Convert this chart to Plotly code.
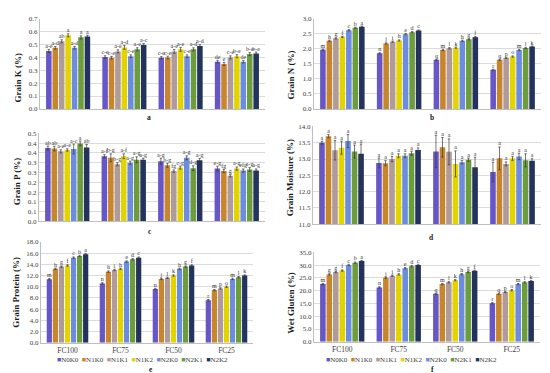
import plotly.graph_objects as go

categories = ["FC100", "FC75", "FC50", "FC25"]
series = ["N0K0", "N1K0", "N1K1", "N1K2", "N2K0", "N2K1", "N2K2"]
colors = ["#6656c6", "#c8862c", "#b09a9a", "#e2d400", "#6c8ce0", "#6c9c3c", "#23335e"]

# ---- Grain K (%) : rows = FC100, FC75, FC50, FC25
k_vals = [[0.450, 0.475, 0.525, 0.572, 0.475, 0.556, 0.562],
          [0.403, 0.398, 0.447, 0.478, 0.410, 0.463, 0.496],
          [0.398, 0.400, 0.447, 0.463, 0.410, 0.463, 0.488],
          [0.367, 0.349, 0.400, 0.410, 0.367, 0.426, 0.430]]
k_err = [[0.012, 0.010, 0.012, 0.012, 0.010, 0.012, 0.010],
         [0.010, 0.010, 0.012, 0.015, 0.010, 0.012, 0.012],
         [0.008, 0.010, 0.015, 0.015, 0.010, 0.012, 0.012],
         [0.010, 0.012, 0.012, 0.012, 0.010, 0.012, 0.012]]
k_lbl = [["a-e", "a-d", "ab", "a", "a-d", "a", "a"],
         ["c-e", "c-e", "a-e", "a-d", "c-e", "a-e", "a-c"],
         ["c-e", "c-e", "a-e", "a-e", "c-e", "a-d", "a-d"],
         ["de", "e", "c-e", "b-e", "de", "b-e", "b-e"]]

# ---- Grain N (%)
n_vals = [[1.97, 2.27, 2.35, 2.40, 2.62, 2.70, 2.74],
          [1.85, 2.18, 2.24, 2.28, 2.49, 2.555, 2.61],
          [1.64, 1.965, 2.02, 2.04, 2.27, 2.32, 2.39],
          [1.30, 1.64, 1.70, 1.745, 1.965, 2.03, 2.075]]
n_err = [[0.02] * 7, [0.02] * 7, [0.02] * 7, [0.02] * 7]
n_lbl = [["m", "h", "g", "f", "c", "b", "a"],
         ["n", "j", "i", "h", "e", "d", "c"],
         ["q", "m", "l", "k", "h", "g", "f"],
         ["r", "q", "p", "o", "m", "l", "k"]]

# ---- Grain P (%)
p_vals = [[0.375, 0.372, 0.358, 0.365, 0.370, 0.398, 0.378],
          [0.333, 0.325, 0.292, 0.333, 0.300, 0.315, 0.315],
          [0.308, 0.287, 0.257, 0.275, 0.325, 0.272, 0.312],
          [0.270, 0.258, 0.233, 0.270, 0.260, 0.265, 0.260]]
p_err = [[0.010, 0.012, 0.008, 0.006, 0.025, 0.012, 0.015],
         [0.008, 0.020, 0.008, 0.012, 0.008, 0.015, 0.008],
         [0.015, 0.010, 0.006, 0.008, 0.010, 0.012, 0.010],
         [0.012, 0.008, 0.006, 0.008, 0.008, 0.010, 0.008]]
p_lbl = [["ab", "ab", "a-e", "a-e", "a-c", "a", "ab"],
         ["a-f", "b-g", "b-g", "a-f", "a-g", "a-g", "a-g"],
         ["a-g", "b-g", "fg", "c-g", "a-g", "d-g", "a-g"],
         ["e-g", "fg", "g", "a-g", "efg", "a-g", "a-g"]]
p_ticks = [0, 0.05, 0.10, 0.15, 0.20, 0.25, 0.30, 0.35, 0.40, 0.45]
p_ticktext = ["0.0", "0.1", "0.1", "0.2", "0.2", "0.3", "0.3", "0.4", "0.4", "0.5"]

# ---- Grain Moisture (%)
m_vals = [[13.50, 13.70, 13.27, 13.35, 13.55, 13.23, 13.16],
          [12.88, 12.87, 13.00, 13.10, 13.10, 13.18, 13.28],
          [13.23, 13.36, 13.22, 12.85, 12.90, 12.98, 12.75],
          [12.60, 13.02, 12.85, 13.02, 13.08, 12.96, 12.95]]
m_err = [[0.04, 0.05, 0.30, 0.20, 0.20, 0.20, 0.30],
         [0.15, 0.08, 0.08, 0.06, 0.06, 0.06, 0.06],
         [0.50, 0.30, 0.40, 0.40, 0.05, 0.05, 0.30],
         [0.30, 0.35, 0.06, 0.06, 0.10, 0.20, 0.06]]
m_lbl = [["a"] * 7, ["a"] * 7, ["a"] * 7, ["a"] * 7]

# ---- Grain Protein (%)
pr_vals = [[11.35, 13.2, 13.6, 13.8, 15.2, 15.5, 15.8],
           [10.6, 12.7, 13.0, 13.2, 14.5, 14.9, 15.2],
           [9.6, 11.4, 11.6, 12.0, 13.2, 13.6, 13.8],
           [7.6, 9.4, 9.7, 10.0, 11.4, 11.7, 12.0]]
pr_err = [[0.12] * 7, [0.12] * 7, [0.12] * 7, [0.12] * 7]
pr_lbl = [["m", "h", "g", "f", "c", "b", "a"],
          ["n", "h", "i", "h", "e", "d", "c"],
          ["n", "j", "l", "k", "h", "g", "f"],
          ["r", "m", "p", "o", "m", "l", "k"]]

# ---- Wet Gluten (%)
g_vals = [[22.6, 26.4, 27.3, 27.9, 30.1, 31.0, 31.6],
          [21.3, 25.1, 25.9, 26.4, 28.8, 29.6, 30.1],
          [18.8, 22.6, 23.3, 24.1, 26.5, 27.3, 27.8],
          [15.1, 18.8, 19.5, 20.2, 22.6, 23.3, 23.8]]
g_err = [[0.25] * 7, [0.25] * 7, [0.25] * 7, [0.25] * 7]
g_lbl = [["m", "g", "g", "f", "c", "b", "a"],
         ["n", "j", "i", "h", "e", "d", "c"],
         ["q", "m", "l", "k", "h", "g", "f"],
         ["r", "q", "p", "o", "m", "l", "k"]]

W, H = 550, 373
FONT = "Liberation Serif"

panels = [
    dict(v=k_vals, e=k_err, l=k_lbl, title="Grain K (%)", letter="a",
         px=(32, 257), py=(7, 99), rng=[0, 0.7], dtick=0.1, tx=10, ty=67, lx=141, ly=108),
    dict(v=n_vals, e=n_err, l=n_lbl, title="Grain N (%)", letter="b",
         px=(306, 533), py=(7, 99), rng=[0, 3.0], dtick=0.5, tx=283, ty=65, lx=424, ly=108),
    dict(v=p_vals, e=p_err, l=p_lbl, title="Grain P (%)", letter="c",
         px=(31, 257), py=(124, 214), rng=[0, 0.45], dtick=None, tx=9, ty=173, lx=142, ly=224),
    dict(v=m_vals, e=m_err, l=m_lbl, title="Grain Moisture (%)", letter="d",
         px=(305, 533), py=(117, 216.7), rng=[11, 14], dtick=0.5, tx=282, ty=170, lx=423, ly=230),
    dict(v=pr_vals, e=pr_err, l=pr_lbl, title="Grain Protein (%)", letter="e",
         px=(33, 245), py=(235, 338), rng=[0, 18], dtick=2, tx=8, ty=287, lx=143, ly=365.5),
    dict(v=g_vals, e=g_err, l=g_lbl, title="Wet Gluten (%)", letter="f",
         px=(306, 532), py=(245.7, 337), rng=[0, 35], dtick=5, tx=283, ty=297, lx=424, ly=365.5),
]

fig = go.Figure()
nser = len(series)
slot = 0.8 / nser
annotations = []
layout = {}

for p, P in enumerate(panels):
    sfx = "" if p == 0 else str(p + 1)
    xa, ya = "x" + sfx, "y" + sfx
    for j, name in enumerate(series):
        xs = [i + (j - (nser - 1) / 2) * slot for i in range(len(categories))]
        ys = [P["v"][i][j] for i in range(len(categories))]
        es = [P["e"][i][j] for i in range(len(categories))]
        ls = [P["l"][i][j] for i in range(len(categories))]
        fig.add_trace(go.Bar(
            x=xs, y=ys, width=slot * 0.86, name=name, marker_color=colors[j],
            marker_line_width=0, showlegend=False, xaxis=xa, yaxis=ya,
            error_y=dict(type="data", array=es, color="#3a3a3a", thickness=0.7, width=1.2)))
        fig.add_trace(go.Scatter(
            x=xs, y=[y + e for y, e in zip(ys, es)], mode="text", text=ls,
            textposition="top center", showlegend=False, hoverinfo="skip",
            textfont=dict(family=FONT, size=6, color="#333333"), xaxis=xa, yaxis=ya,
            cliponaxis=False))
    show_cat = p >= 4
    layout["xaxis" + sfx] = dict(
        domain=[P["px"][0] / W, P["px"][1] / W], anchor=ya, range=[-0.5, 3.5],
        tickvals=list(range(len(categories))), ticktext=categories,
        showticklabels=show_cat, ticks="", showgrid=False, zeroline=False,
        showline=True, linecolor="#bfbfbf", linewidth=1,
        tickfont=dict(family=FONT, size=7.5, color="#404040"))
    yax = dict(
        domain=[1 - P["py"][1] / H, 1 - P["py"][0] / H], anchor=xa, range=P["rng"],
        showgrid=True, gridcolor="#dcdcdc", gridwidth=0.7, zeroline=False,
        showline=True, linecolor="#bfbfbf", linewidth=1, ticks="",
        tickfont=dict(family=FONT, size=7, color="#404040"))
    if P["dtick"] is None:
        yax.update(tickvals=p_ticks, ticktext=p_ticktext)
    else:
        yax.update(dtick=P["dtick"], tick0=P["rng"][0], tickformat=".1f")
    layout["yaxis" + sfx] = yax
    annotations.append(dict(
        text="<b>%s</b>" % P["title"], x=P["tx"] / W, y=1 - P["ty"] / H,
        xref="paper", yref="paper", textangle=-90, showarrow=False,
        xanchor="center", yanchor="middle",
        font=dict(family=FONT, size=9, color="#1a1a1a")))
    annotations.append(dict(
        text="<b>%s</b>" % P["letter"], x=P["lx"] / W, y=1 - P["ly"] / H,
        xref="paper", yref="paper", showarrow=False, borderpad=0,
        xanchor="center", yanchor="middle",
        font=dict(family=FONT, size=7.5, color="#1a1a1a")))

legend_text = "  ".join(
    "<span style='color:%s'>■</span>%s" % (c, s) for c, s in zip(colors, series))
for lx, ly in [(134, 356), (403, 356)]:
    annotations.append(dict(
        text=legend_text, x=lx / W, y=1 - ly / H, xref="paper", yref="paper",
        showarrow=False, xanchor="center", yanchor="middle", borderpad=0,
        font=dict(family=FONT, size=7, color="#404040")))

fig.update_layout(
    width=W, height=H, margin=dict(l=0, r=0, t=0, b=0),
    paper_bgcolor="white", plot_bgcolor="white", barmode="overlay",
    annotations=annotations, **layout)

fig.write_html("out.html")
